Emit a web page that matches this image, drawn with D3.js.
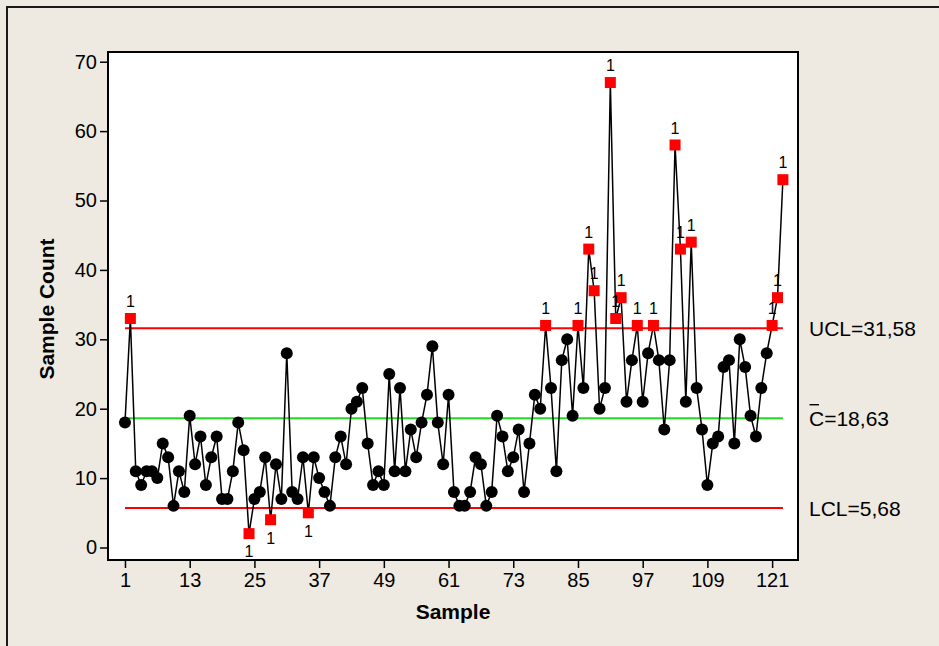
<!DOCTYPE html>
<html>
<head>
<meta charset="utf-8">
<script src="https://cdn.jsdelivr.net/npm/d3@7/dist/d3.min.js"></script>
<style>
  html, body { margin: 0; padding: 0; background: #eeeae1; }
  svg { display: block; }
</style>
</head>
<body>
<svg id="chart" width="939" height="646"></svg>
<script>
// Defect counts per sample (C chart)
const sampleCounts = [
  18, 33, 11, 9, 11, 11, 10, 15, 13, 6,
  11, 8, 19, 12, 16, 9, 13, 16, 7, 7,
  11, 18, 14, 2, 7, 8, 13, 4, 12, 7,
  28, 8, 7, 13, 5, 13, 10, 8, 6, 13,
  16, 12, 20, 21, 23, 15, 9, 11, 9, 25,
  11, 23, 11, 17, 13, 18, 22, 29, 18, 12,
  22, 8, 6, 6, 8, 13, 12, 6, 8, 19,
  16, 11, 13, 17, 8, 15, 22, 20, 32, 23,
  11, 27, 30, 19, 32, 23, 43, 37, 20, 23,
  67, 33, 36, 21, 27, 32, 21, 28, 32, 27,
  17, 27, 58, 43, 21, 44, 23, 17, 9, 15,
  16, 26, 27, 15, 30, 26, 19, 16, 23, 28,
  32, 36, 53
];

// Control limits
const limitKeys   = ["UCL", "CL", "LCL"];
const limitValues = [31.58, 18.63, 5.68];
const limitText   = ["UCL=31,58", "=18,63", "LCL=5,68"];

const xTickValues = [1, 13, 25, 37, 49, 61, 73, 85, 97, 109, 121];
const yTickValues = [0, 10, 20, 30, 40, 50, 60, 70];

const W = 939, H = 646;
const plot = { left: 108, right: 798, top: 52, bottom: 560 };
const FONT = "'Liberation Sans', Arial, sans-serif";

const svg = d3.select("#chart");

// page background and outer frame
svg.append("rect").attr("width", W).attr("height", H).attr("fill", "#eeeae1");
svg.append("path")
  .attr("d", `M7,${H} L7,7 L${W},7`)
  .attr("fill", "none").attr("stroke", "#1a1a1a").attr("stroke-width", 2);

const x = d3.scaleLinear().domain([-2.15, 125.8]).range([plot.left, plot.right]);
const y = d3.scaleLinear().domain([-1.8, 71.4]).range([plot.bottom, plot.top]);

// plot area
svg.append("rect")
  .attr("x", plot.left).attr("y", plot.top)
  .attr("width", plot.right - plot.left).attr("height", plot.bottom - plot.top)
  .attr("fill", "#ffffff");

// axes
const xAxis = svg.append("g")
  .attr("transform", `translate(0,${plot.bottom})`)
  .call(d3.axisBottom(x).tickValues(xTickValues).tickSize(8).tickPadding(5));
const yAxis = svg.append("g")
  .attr("transform", `translate(${plot.left},0)`)
  .call(d3.axisLeft(y).tickValues(yTickValues).tickSize(8).tickPadding(3));
[xAxis, yAxis].forEach(g => {
  g.select(".domain").remove();
  g.selectAll(".tick line").attr("stroke", "#000").attr("stroke-width", 1.5);
  g.selectAll(".tick text")
    .attr("fill", "#000")
    .style("font-family", FONT)
    .style("font-size", "20px");
});

// control limit lines
const limitColor = ["#ff0000", "#22dd22", "#ff0000"];
const first = 1, last = sampleCounts.length;
svg.append("g").selectAll("line")
  .data(limitValues)
  .join("line")
  .attr("x1", x(first)).attr("x2", x(last))
  .attr("y1", d => y(d)).attr("y2", d => y(d))
  .attr("stroke", (d, i) => limitColor[i])
  .attr("stroke-width", 2);

// limit labels
const labels = svg.append("g")
  .style("font-family", FONT).style("font-size", "21px").attr("fill", "#000");
limitValues.forEach((v, i) => {
  const t = labels.append("text")
    .attr("x", 809).attr("y", y(v)).attr("dy", "0.36em");
  if (limitKeys[i] === "CL") {
    t.append("tspan").text("C");
    t.append("tspan").text(limitText[i]);
    labels.append("line")
      .attr("x1", 809.5).attr("x2", 819)
      .attr("y1", y(v) - 13.5).attr("y2", y(v) - 13.5)
      .attr("stroke", "#000").attr("stroke-width", 1.4);
  } else {
    t.text(limitText[i]);
  }
});

// data line
const pts = sampleCounts.map((v, i) => ({ n: i + 1, v }));
svg.append("path")
  .datum(pts)
  .attr("fill", "none")
  .attr("stroke", "#000")
  .attr("stroke-width", 1.5)
  .attr("d", d3.line().x(d => x(d.n)).y(d => y(d.v)));

const ucl = limitValues[0], lcl = limitValues[2];
const isOut = d => d.v > ucl || d.v < lcl;

// in-control points
svg.append("g").selectAll("circle")
  .data(pts.filter(d => !isOut(d)))
  .join("circle")
  .attr("cx", d => x(d.n)).attr("cy", d => y(d.v))
  .attr("r", 6).attr("fill", "#000");

// out-of-control points (test 1)
const outPts = pts.filter(isOut);
svg.append("g").selectAll("rect")
  .data(outPts)
  .join("rect")
  .attr("x", d => x(d.n) - 5.5).attr("y", d => y(d.v) - 5.5)
  .attr("width", 11).attr("height", 11)
  .attr("fill", "#ff0000");

svg.append("g").selectAll("text")
  .data(outPts)
  .join("text")
  .attr("x", d => x(d.n))
  .attr("y", d => d.v > ucl ? y(d.v) - 17 : y(d.v) + 18)
  .attr("dy", "0.36em")
  .attr("text-anchor", "middle")
  .style("font-family", FONT).style("font-size", "16px")
  .attr("fill", "#000")
  .text("1");

// plot frame
svg.append("rect")
  .attr("x", plot.left).attr("y", plot.top)
  .attr("width", plot.right - plot.left).attr("height", plot.bottom - plot.top)
  .attr("fill", "none").attr("stroke", "#000").attr("stroke-width", 2);

// axis titles
svg.append("text")
  .attr("x", 453).attr("y", 611).attr("dy", "0.36em")
  .attr("text-anchor", "middle")
  .style("font-family", FONT).style("font-size", "21px").style("font-weight", "bold")
  .text("Sample");
svg.append("text")
  .attr("transform", "translate(46,309) rotate(-90)")
  .attr("dy", "0.36em")
  .attr("text-anchor", "middle")
  .style("font-family", FONT).style("font-size", "21px").style("font-weight", "bold")
  .text("Sample Count");
</script>
</body>
</html>
